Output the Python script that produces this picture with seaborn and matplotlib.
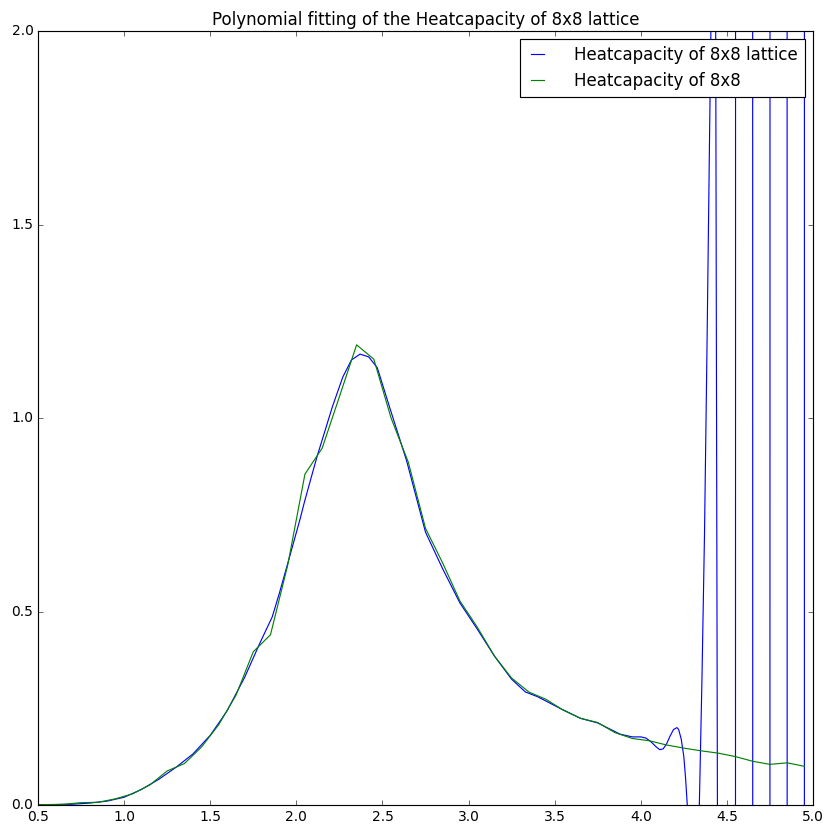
import matplotlib
matplotlib.use("Agg")
import matplotlib.pyplot as plt
import seaborn as sns
import pandas as pd

# Measured data (green)
temp = [0.45, 0.55, 0.65, 0.75, 0.85, 0.95, 1.05, 1.15, 1.25, 1.35, 1.45, 1.55, 1.65,
        1.75, 1.85, 1.95, 2.05, 2.15, 2.25, 2.35, 2.45, 2.55, 2.65, 2.75, 2.85, 2.95,
        3.05, 3.15, 3.25, 3.35, 3.45, 3.55, 3.65, 3.75, 3.85, 3.95, 4.05, 4.15, 4.25,
        4.35, 4.45, 4.55, 4.65, 4.75, 4.85, 4.95]
heat = [0.001, 0.001, 0.002, 0.006, 0.007, 0.016, 0.029, 0.052, 0.088, 0.107, 0.150, 0.208,
        0.284, 0.396, 0.440, 0.620, 0.855, 0.922, 1.055, 1.189, 1.152, 1.000, 0.886, 0.715,
        0.625, 0.527, 0.460, 0.385, 0.328, 0.292, 0.273, 0.245, 0.224, 0.213, 0.187, 0.172,
        0.166, 0.155, 0.147, 0.140, 0.134, 0.125, 0.113, 0.105, 0.109, 0.100]

# Polynomial fit curve (blue)
fit_t = [0.50, 0.60, 0.70, 0.80, 0.90, 1.00, 1.10, 1.20, 1.30, 1.40, 1.50, 1.57, 1.60,
         1.70, 1.79, 1.86, 1.90, 1.96, 2.02, 2.05, 2.12, 2.21, 2.27, 2.32, 2.37, 2.42,
         2.47, 2.54, 2.64, 2.75, 2.85, 2.95, 3.05, 3.15, 3.25, 3.33, 3.40, 3.53, 3.65,
         3.75, 3.88, 3.95, 4.00, 4.03, 4.06, 4.09, 4.11, 4.13, 4.15, 4.17, 4.19, 4.21,
         4.22, 4.235, 4.25, 4.26, 4.27, 4.29, 4.31, 4.33, 4.34, 4.355, 4.37, 4.385,
         4.40, 4.41, 4.42, 4.43, 4.435, 4.445, 4.455, 4.50, 4.55, 4.60, 4.65, 4.70,
         4.75, 4.80, 4.85, 4.90, 4.95, 4.97]
fit_c = [0.001, 0.001, 0.002, 0.005, 0.010, 0.020, 0.040, 0.066, 0.097, 0.132, 0.180, 0.225,
         0.245, 0.330, 0.420, 0.486, 0.545, 0.640, 0.736, 0.788, 0.900, 1.030, 1.106, 1.150,
         1.165, 1.158, 1.130, 1.030, 0.890, 0.705, 0.610, 0.522, 0.455, 0.385, 0.325, 0.292,
         0.280, 0.250, 0.224, 0.212, 0.183, 0.176, 0.176, 0.173, 0.163, 0.150, 0.143, 0.145,
         0.158, 0.178, 0.195, 0.200, 0.195, 0.170, 0.125, 0.070, 0.000, -0.400, -0.500,
         -0.200, 0.000, 0.320, 0.700, 1.200, 1.750, 2.100, 4.000, 3.500, 2.000, 0.000,
         -3.0, -300.0, 0.125, 300.0, 0.113, -300.0, 0.105, 300.0, 0.109, -300.0, 0.100,
         300.0]

plt.style.use("classic")
DPI = 83
fig = plt.figure(figsize=(833 / DPI, 835 / DPI), dpi=DPI)
ax = fig.add_axes([38 / 833, 1 - 805 / 835, 775 / 833, 774 / 835])

fit_df = pd.DataFrame({"T": fit_t, "C": fit_c})
data_df = pd.DataFrame({"T": temp, "C": heat})

sns.lineplot(data=fit_df, x="T", y="C", ax=ax, color="b", linewidth=1.0,
             estimator=None, sort=False, label="Heatcapacity of 8x8 lattice")
sns.lineplot(data=data_df, x="T", y="C", ax=ax, color="g", linewidth=1.0,
             estimator=None, sort=False, label="Heatcapacity of 8x8")

ax.set_xlim(0.5, 5.0)
ax.set_ylim(0.0, 2.0)
ax.set_xticks([0.5, 1.0, 1.5, 2.0, 2.5, 3.0, 3.5, 4.0, 4.5, 5.0])
ax.set_yticks([0.0, 0.5, 1.0, 1.5, 2.0])
ax.set_xlabel("")
ax.set_ylabel("")
ax.set_title("Polynomial fitting of the Heatcapacity of 8x8 lattice")
ax.legend(loc="upper right", handlelength=1.4, handletextpad=1.5)

fig.savefig("out.png", dpi=DPI)
